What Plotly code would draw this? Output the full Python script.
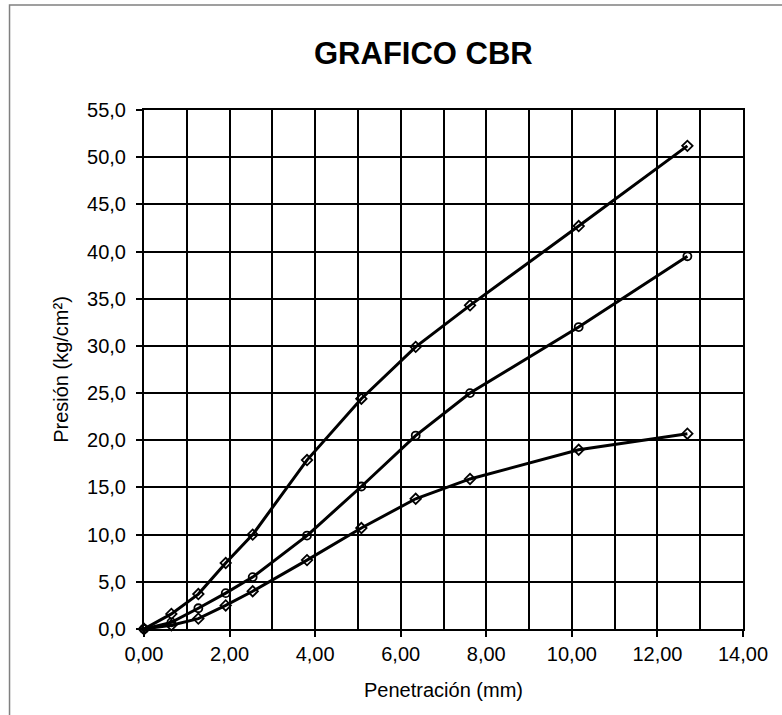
import plotly.graph_objects as go

# Penetración (mm) y presiones (kg/cm²) de los tres especímenes
penetracion = [0.00, 0.64, 1.27, 1.91, 2.54, 3.81, 5.08, 6.35, 7.62, 10.16, 12.70]
presion_56 = [0.0, 1.6, 3.7, 7.0, 10.0, 17.9, 24.4, 29.9, 34.3, 42.7, 51.2]
presion_25 = [0.0, 0.7, 2.2, 3.8, 5.5, 9.9, 15.1, 20.5, 25.0, 32.0, 39.5]
presion_10 = [0.0, 0.4, 1.1, 2.5, 4.0, 7.3, 10.7, 13.8, 15.9, 19.0, 20.7]

x_ticks = [0, 2, 4, 6, 8, 10, 12, 14]
x_labels = ["0,00", "2,00", "4,00", "6,00", "8,00", "10,00", "12,00", "14,00"]
y_ticks = [0, 5, 10, 15, 20, 25, 30, 35, 40, 45, 50, 55]
y_labels = ["0,0", "5,0", "10,0", "15,0", "20,0", "25,0", "30,0", "35,0",
            "40,0", "45,0", "50,0", "55,0"]

FONT = "Liberation Sans, Arial, sans-serif"

fig = go.Figure()
series = [
    (presion_56, "diamond-open"),
    (presion_25, "circle-open"),
    (presion_10, "diamond-open"),
]
for vals, sym in series:
    fig.add_trace(go.Scatter(
        x=penetracion, y=vals, mode="lines+markers",
        line=dict(color="black", width=3),
        marker=dict(symbol=sym, size=8, color="black",
                    line=dict(color="black", width=1.8)),
        showlegend=False, cliponaxis=False,
    ))

fig.update_layout(
    width=782, height=715,
    margin=dict(l=144, r=39, t=110, b=86),
    paper_bgcolor="white", plot_bgcolor="white",
    font=dict(family=FONT, color="black", size=20),
    shapes=[dict(type="rect", xref="paper", yref="paper",
                 x0=-0.2245, x1=1.08, y0=-0.18, y1=1.2023,
                 line=dict(color="#808080", width=1.5), layer="below")],
    annotations=[dict(text="<b>GRAFICO CBR</b>", xref="paper", yref="paper",
                      x=0.466, y=1.109, xanchor="center", yanchor="middle",
                      showarrow=False, font=dict(size=31, family=FONT))],
)
fig.update_xaxes(
    range=[0, 14], tickvals=x_ticks, ticktext=x_labels,
    showgrid=True, gridcolor="black", gridwidth=2,
    minor=dict(dtick=1, showgrid=True, gridcolor="black", gridwidth=2),
    showline=True, linecolor="black", linewidth=2, mirror=True,
    ticks="outside", ticklen=6, tickwidth=2, tickcolor="black",
    zeroline=False,
    title=dict(text="Penetración (mm)", font=dict(size=20), standoff=19),
)
fig.update_yaxes(
    range=[0, 55], tickvals=y_ticks, ticktext=y_labels,
    showgrid=True, gridcolor="black", gridwidth=2,
    showline=True, linecolor="black", linewidth=2, mirror=True,
    ticks="outside", ticklen=6, tickwidth=2, tickcolor="black",
    ticklabelstandoff=6,
    zeroline=False,
    title=dict(text="Presión (kg/cm²)", font=dict(size=20), standoff=13),
)

fig.write_html("out.html")
